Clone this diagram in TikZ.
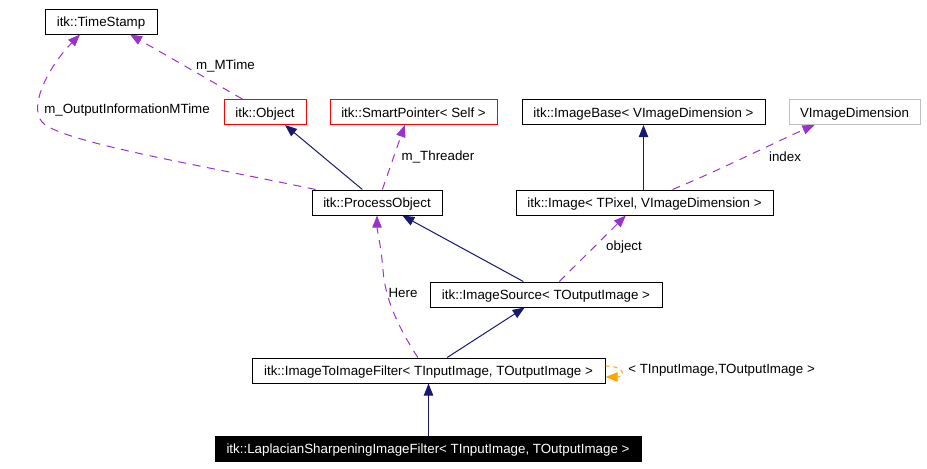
\documentclass[tikz,border=0pt]{standalone}
\usepackage{fontspec}
\setmainfont{Liberation Sans}
\usetikzlibrary{arrows.meta,calc}
\definecolor{edgepurple}{RGB}{153,50,204}
\definecolor{edgenavy}{RGB}{25,25,112}
\definecolor{edgeorange}{RGB}{255,165,0}
\definecolor{boxgray}{RGB}{191,191,191}
\tikzset{
  cls/.style={draw=black, line width=0.75pt, minimum height=18.75pt, inner sep=0pt, text height=8.3pt, text depth=0.7pt, font=\fontsize{10}{12}\selectfont},
  redcls/.style={cls, draw=red},
  graycls/.style={cls, draw=boxgray},
  blackcls/.style={cls, fill=black, text=white},
  inherit/.style={draw=edgenavy, line width=0.75pt, -{Triangle[length=9pt,width=7pt]}},
  usage/.style={draw=edgepurple, line width=0.75pt, dash pattern=on 6pt off 5pt, -{Triangle[length=9pt,width=7pt]}},
  tmpl/.style={draw=edgeorange, line width=0.75pt, dash pattern=on 3pt off 3pt, -{Triangle[length=9pt,width=7pt]}},
  elabel/.style={font=\fontsize{10}{12}\selectfont, inner sep=0pt}
}
\begin{document}
\begin{tikzpicture}[x=0.75pt,y=-0.75pt]
\useasboundingbox (0,0) rectangle (927,468);
% nodes
\node[cls, minimum width=84pt] (ts) at (101,21.5) {itk::TimeStamp};
\node[redcls, minimum width=61.5pt] (obj) at (265,112) {itk::Object};
\node[redcls, minimum width=125.25pt] (sp) at (413.5,112) {itk::SmartPointer< Self >};
\node[cls, minimum width=182.25pt] (ib) at (643.5,112) {itk::ImageBase< VImageDimension >};
\node[graycls, minimum width=98.25pt] (vd) at (854.5,112) {VImageDimension};
\node[cls, minimum width=97.5pt] (po) at (377,202.5) {itk::ProcessObject};
\node[cls, minimum width=192.75pt] (img) at (644.5,202.5) {itk::Image< TPixel, VImageDimension >};
\node[cls, minimum width=174pt] (is) at (546,294.5) {itk::ImageSource< TOutputImage >};
\node[cls, minimum width=264.75pt] (itf) at (428.5,370.5) {itk::ImageToImageFilter< TInputImage, TOutputImage >};
\node[blackcls, minimum width=319.5pt] (lap) at (428,448.5) {itk::LaplacianSharpeningImageFilter< TInputImage, TOutputImage >};

% edges
\draw[usage] ([xshift=3pt]po.north west) .. controls (200,165) and (60,142) .. (42,122)
   .. controls (28,105) and (50,65) .. ([xshift=-15.75pt]ts.south);
\node[elabel] (l1) at (127,110) {m\_OutputInformationMTime};

\draw[usage] ([xshift=-17pt]obj.north) -- ([xshift=21.75pt]ts.south);
\node[elabel] (l2) at (225.5,66) {m\_MTime};

\draw[inherit] ([xshift=-11pt]po.north) -- ([xshift=15pt]obj.south);

\draw[usage] ([xshift=4pt]po.north) -- ([xshift=-6.5pt]sp.south);
\node[elabel] (l3) at (438,157) {m\_Threader};

\draw[inherit] (img.north -| ib.south) -- (ib.south);

\draw[usage] ([xshift=21pt]img.north) .. controls (720,170) and (780,140) .. ([xshift=-30pt]vd.south);
\node[elabel] (l4) at (785,157) {index};

\draw[inherit] ([xshift=-17pt]is.north) -- ([xshift=19pt]po.south);

\draw[usage] ([xshift=10pt]is.north) -- ([xshift=-14pt]img.south);
\node[elabel] (l5) at (624,247) {object};

\draw[usage] ([xshift=-8pt]itf.north) .. controls (400,330) and (385,300) .. (383,270) .. controls (381,245) and (377,230) .. (po.south);
\node[elabel] (l6) at (403,293) {Here};

\draw[inherit] ([xshift=14pt]itf.north) -- ([xshift=-16pt]is.south);

\draw[inherit] (lap.north -| itf.south) -- (itf.south);

\draw[tmpl] ([yshift=3.4pt]itf.east) .. controls +(15pt,0pt) and +(15pt,0pt) .. ([yshift=-4.9pt]itf.east);
\node[elabel, anchor=west] (l7) at (628,370) {< TInputImage,TOutputImage >};
\end{tikzpicture}
\end{document}
